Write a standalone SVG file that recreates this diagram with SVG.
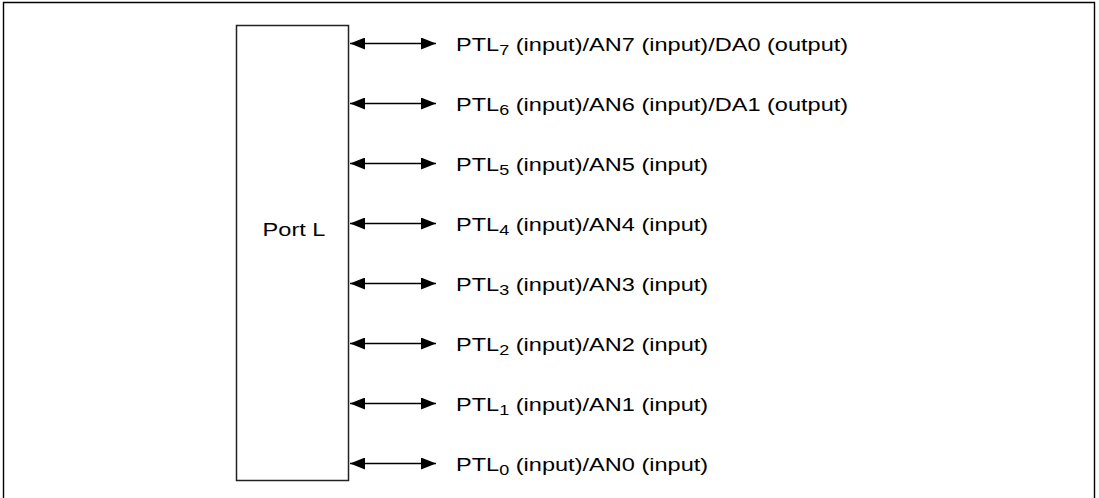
<svg xmlns="http://www.w3.org/2000/svg" width="1099" height="498" viewBox="0 0 1099 498">
<style>
.t{font-family:"Liberation Sans",Arial,sans-serif;font-size:19px;fill:#000}
.s{font-size:14.5px}
.c{stroke:#000;stroke-width:1.5;fill:none}
</style>
<defs>
<marker id="ah" viewBox="0 0 15 12" refX="15" refY="6" markerWidth="15" markerHeight="12" markerUnits="userSpaceOnUse" orient="auto-start-reverse">
<path d="M0,0 L15,6 L0,12 Z" fill="#000"/>
</marker>
</defs>
<rect width="1099" height="498" fill="#fff"/>
<path d="M3.5,498 V2.5 H1094.5 V498" fill="none" stroke="#000" stroke-width="1.4"/>
<g id="portL">
<rect x="236.5" y="25.5" width="112" height="455" fill="#fff" stroke="#222" stroke-width="1.5"/>
<text class="t" text-anchor="middle" transform="translate(294,236) scale(1.24,1)">Port L</text>
</g>
<g id="connectors">
<line class="c" x1="350" y1="43.5" x2="436" y2="43.5" marker-start="url(#ah)" marker-end="url(#ah)"/>
<line class="c" x1="350" y1="103.5" x2="436" y2="103.5" marker-start="url(#ah)" marker-end="url(#ah)"/>
<line class="c" x1="350" y1="163.5" x2="436" y2="163.5" marker-start="url(#ah)" marker-end="url(#ah)"/>
<line class="c" x1="350" y1="223.5" x2="436" y2="223.5" marker-start="url(#ah)" marker-end="url(#ah)"/>
<line class="c" x1="350" y1="283.5" x2="436" y2="283.5" marker-start="url(#ah)" marker-end="url(#ah)"/>
<line class="c" x1="350" y1="343.5" x2="436" y2="343.5" marker-start="url(#ah)" marker-end="url(#ah)"/>
<line class="c" x1="350" y1="403.5" x2="436" y2="403.5" marker-start="url(#ah)" marker-end="url(#ah)"/>
<line class="c" x1="350" y1="463.5" x2="436" y2="463.5" marker-start="url(#ah)" marker-end="url(#ah)"/>
</g>
<g id="ptl7"><text class="t" transform="translate(456,50.7) scale(1.24,1)">PTL<tspan class="s" dy="4.5">7</tspan><tspan dy="-4.5"> (input)/AN7 (input)/DA0 (output)</tspan></text></g>
<g id="ptl6"><text class="t" transform="translate(456,110.7) scale(1.24,1)">PTL<tspan class="s" dy="4.5">6</tspan><tspan dy="-4.5"> (input)/AN6 (input)/DA1 (output)</tspan></text></g>
<g id="ptl5"><text class="t" transform="translate(456,170.7) scale(1.24,1)">PTL<tspan class="s" dy="4.5">5</tspan><tspan dy="-4.5"> (input)/AN5 (input)</tspan></text></g>
<g id="ptl4"><text class="t" transform="translate(456,230.7) scale(1.24,1)">PTL<tspan class="s" dy="4.5">4</tspan><tspan dy="-4.5"> (input)/AN4 (input)</tspan></text></g>
<g id="ptl3"><text class="t" transform="translate(456,290.7) scale(1.24,1)">PTL<tspan class="s" dy="4.5">3</tspan><tspan dy="-4.5"> (input)/AN3 (input)</tspan></text></g>
<g id="ptl2"><text class="t" transform="translate(456,350.7) scale(1.24,1)">PTL<tspan class="s" dy="4.5">2</tspan><tspan dy="-4.5"> (input)/AN2 (input)</tspan></text></g>
<g id="ptl1"><text class="t" transform="translate(456,410.7) scale(1.24,1)">PTL<tspan class="s" dy="4.5">1</tspan><tspan dy="-4.5"> (input)/AN1 (input)</tspan></text></g>
<g id="ptl0"><text class="t" transform="translate(456,470.7) scale(1.24,1)">PTL<tspan class="s" dy="4.5">0</tspan><tspan dy="-4.5"> (input)/AN0 (input)</tspan></text></g>
</svg>
